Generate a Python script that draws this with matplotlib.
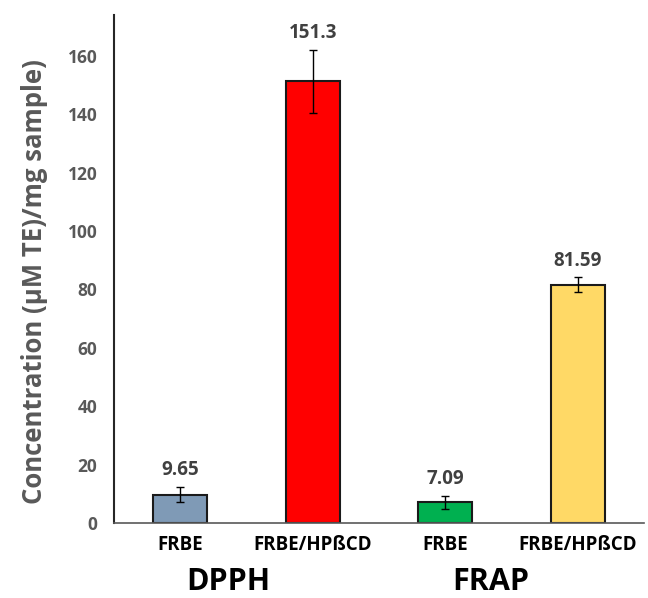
import matplotlib
matplotlib.use('Agg')
import matplotlib.pyplot as plt
import matplotlib.transforms as mtransforms

plt.rcParams['font.family'] = ['Open Sans', 'DejaVu Sans']

samples = ['FRBE', 'FRBE/HPßCD', 'FRBE', 'FRBE/HPßCD']
assays = ['DPPH', 'FRAP']
assay_pos = [0.36, 2.34]
values = [9.65, 151.3, 7.09, 81.59]
errors = [2.6, 10.8, 2.2, 2.5]
value_labels = ['9.65', '151.3', '7.09', '81.59']
colors = ['#7F9AB6', '#FF0000', '#00B050', '#FFD966']

fig = plt.figure(figsize=(6.48, 5.98), dpi=100)
ax = fig.add_axes([114/648, 1 - 523/598, (644-114)/648, (523-15)/598])

x = list(range(len(values)))
ax.bar(x, values, width=0.41, color=colors, edgecolor='#1a1a1a', linewidth=1.5,
       yerr=errors, error_kw=dict(ecolor='black', elinewidth=1, capsize=3, capthick=1))

for xi, v, e, lab in zip(x, values, errors, value_labels):
    ax.annotate(lab, (xi, v + e), xytext=(0, 5), textcoords='offset points',
                ha='center', va='bottom', fontsize=13.5, fontweight='bold', color='#404040')

ax.set_xlim(-0.5, 3.5)
ax.set_ylim(0, 174)
ax.set_yticks(range(0, 161, 20))
ax.tick_params(axis='y', length=0, pad=12, labelsize=12.5, labelcolor='#595959')
ax.tick_params(axis='x', length=0, pad=9, labelsize=13.5)
ax.set_xticks(x)
ax.set_xticklabels(samples, fontweight='bold')
for t in ax.get_yticklabels():
    t.set_fontweight('bold')

ax.spines['top'].set_visible(False)
ax.spines['right'].set_visible(False)
ax.spines['left'].set_color('#262626')
ax.spines['left'].set_linewidth(1.5)
ax.spines['bottom'].set_color('#595959')
ax.spines['bottom'].set_linewidth(1.2)

ax.set_ylabel('Concentration (μM TE)/mg sample)', fontsize=18.5, fontweight='bold',
              color='#595959')
ax.yaxis.set_label_coords(-0.125, 0.475)

trans = mtransforms.blended_transform_factory(ax.transData, fig.transFigure)
for pos, name in zip(assay_pos, assays):
    ax.text(pos, (598 - 582) / 598, name, transform=trans,
            ha='center', va='center', fontsize=22, fontweight='bold', color='black')

fig.savefig('out.png', dpi=100)
